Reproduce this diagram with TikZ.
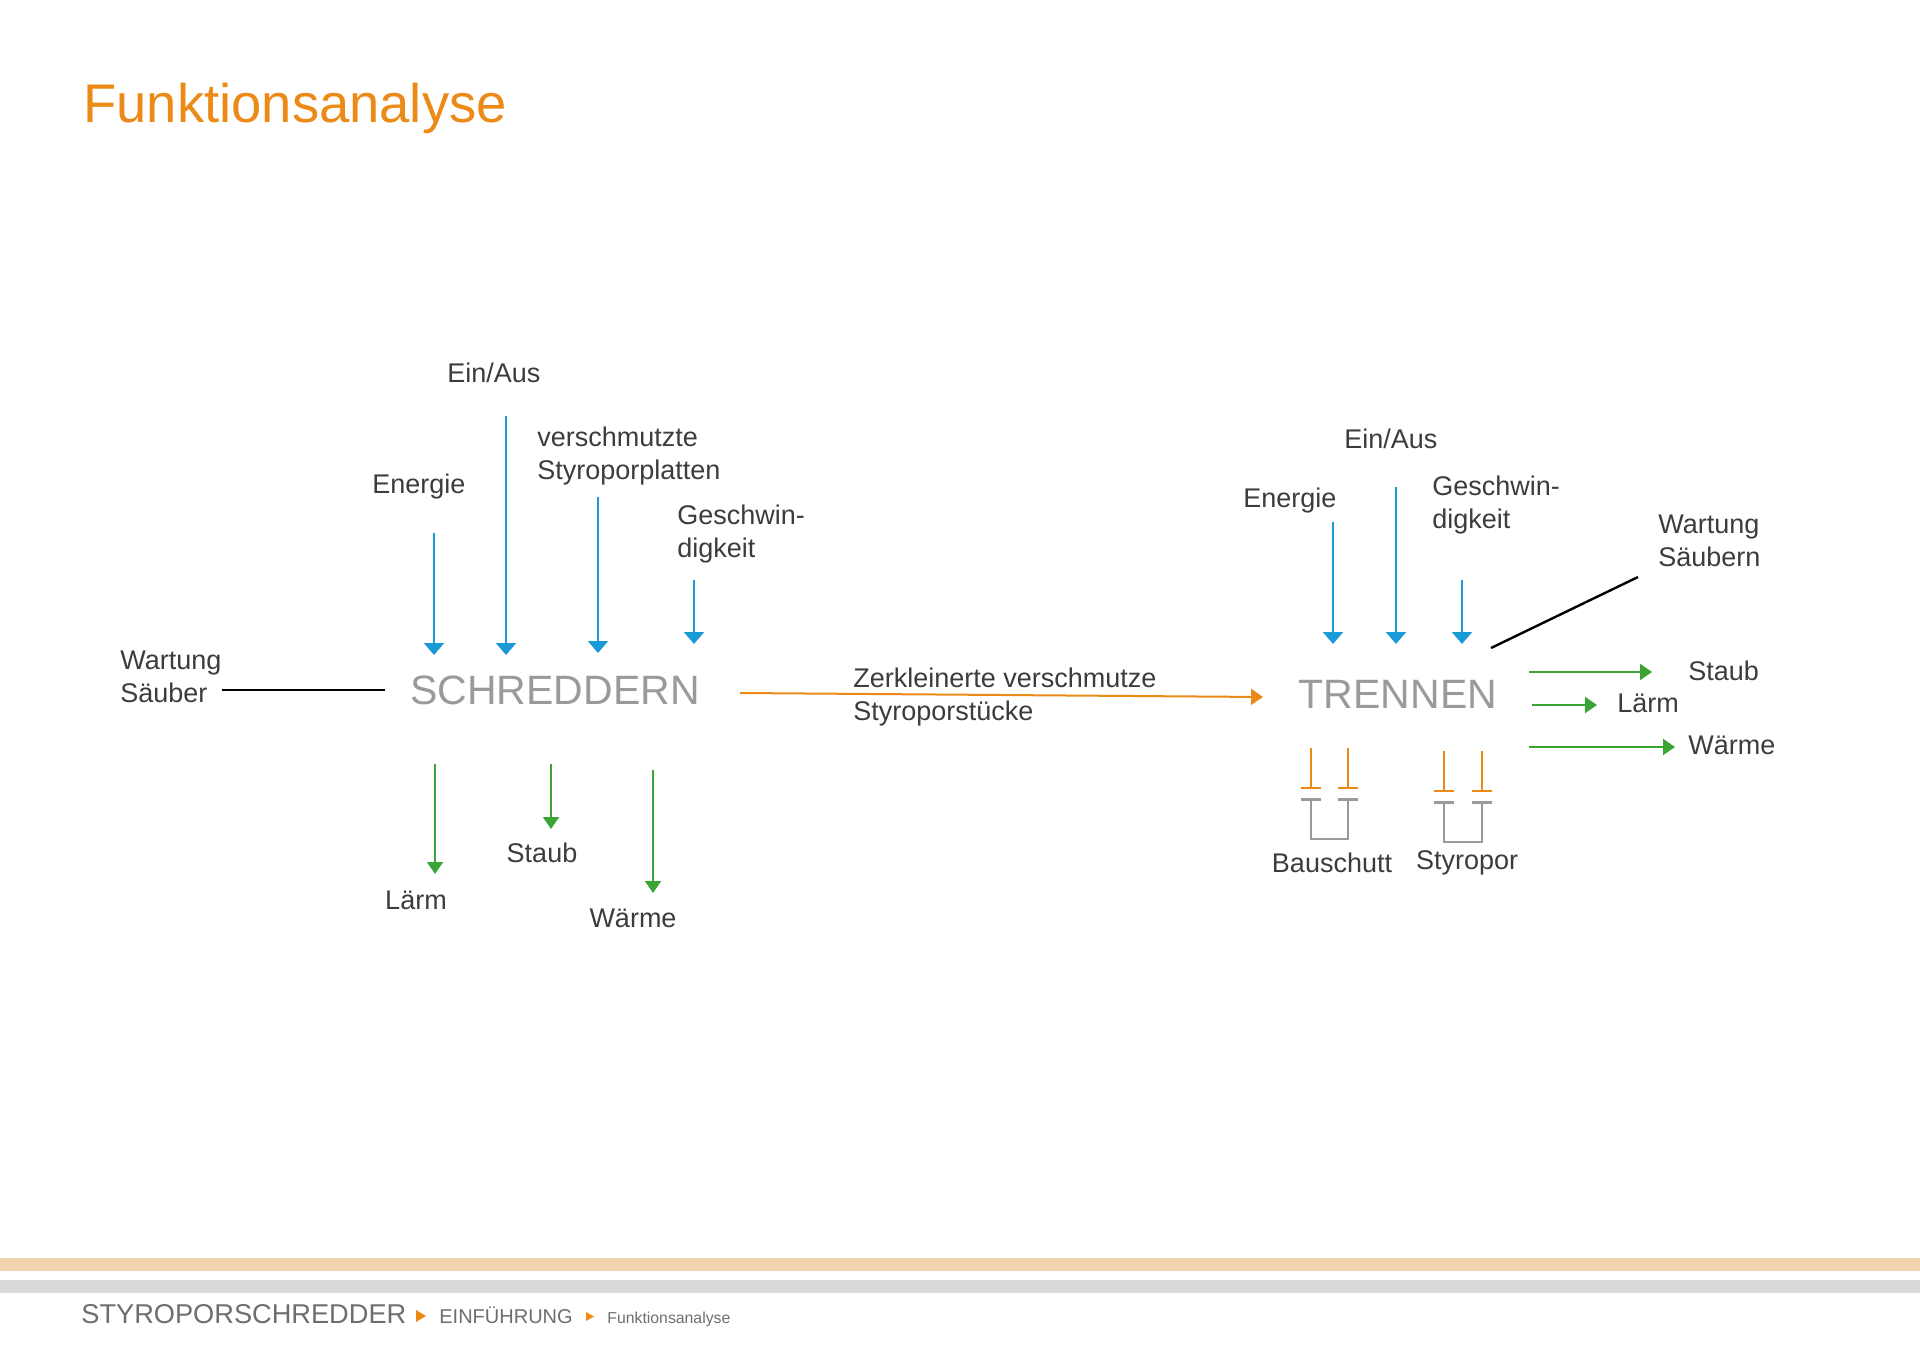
\documentclass[tikz,border=0pt]{standalone}
\usepackage{fontspec}
\setmainfont{Liberation Sans}
\usepackage{xcolor}
\usetikzlibrary{arrows.meta, positioning}
\definecolor{fnorange}{HTML}{EB8A17}
\definecolor{fnblue}{HTML}{1B9AD8}
\definecolor{fngreen}{HTML}{3AA435}
\definecolor{txtgray}{HTML}{3C3C3C}
\definecolor{procgray}{HTML}{9A9A9A}
\definecolor{bandorange}{HTML}{F2D3AE}
\definecolor{bandgray}{HTML}{DADADA}
\definecolor{footgray}{HTML}{6E6E6E}

\begin{document}
\begin{tikzpicture}[x=0.5pt, y=-0.5pt,
    every node/.style={inner sep=0pt, text=txtgray, align=left, font=\fontsize{13.5}{16.5}\selectfont},
    proc/.style={text=procgray, font=\fontsize{20.5}{24}\selectfont},
    infl/.style={color=fnblue, line width=1pt, -{Triangle[width=10pt,length=6pt]}},
    outfl/.style={color=fngreen, line width=1pt, -{Triangle[width=8pt,length=6pt]}},
    flow/.style={color=fnorange, line width=1pt, -{Triangle[width=8pt,length=6pt]}},
    wline/.style={black, line width=1.2pt},
    binin/.style={color=fnorange, line width=1pt, -{Bar[width=10pt]}},
    binbox/.style={color=procgray, line width=1.3pt, {Bar[width=10pt]}-{Bar[width=10pt]}}]
    \useasboundingbox (0,0) rectangle (1920,1358);

    % title
    \node[anchor=base west, text=fnorange, font=\fontsize{27.2}{32}\selectfont] (title) at (83,123) {Funktionsanalyse};

    % processes
    \node[proc] (schred) at (555,690) {SCHREDDERN};
    \node[proc] (trenn) at (1398,694) {TRENNEN};

    % inputs SCHREDDERN
    \foreach \n/\x/\ya/\yb in {en/434/533/655, ea/506/416/655, vs/598/497/653, gs/694/580/644} {
        \coordinate (s\n-a) at (\x,\ya);
        \coordinate (s\n-b) at (\x,\yb);
        \draw[infl] (s\n-a) -- (s\n-b);
    }
    \node[anchor=west] (sEinAus) at (447,373) {Ein/Aus};
    \node[anchor=west] (sEnergie) at (372,487) {Energie};
    \node[anchor=west] (sPlatten) at (537,456) {verschmutzte\\Styroporplatten};
    \node[anchor=west] (sGeschw) at (677,534) {Geschwin-\\digkeit};

    % outputs SCHREDDERN
    \foreach \n/\x/\ya/\yb in {la/435/764/874, st/551/764/829, wa/653/770/893} {
        \coordinate (s\n-a) at (\x,\ya);
        \coordinate (s\n-b) at (\x,\yb);
        \draw[outfl] (s\n-a) -- (s\n-b);
    }
    \node (sLaerm) at (416,900) {Lärm};
    \node (sStaub) at (542,853) {Staub};
    \node (sWaerme) at (633,918) {Wärme};

    % wartung SCHREDDERN
    \node[anchor=west] (sWartung) at (120,677) {Wartung\\Säuber};
    \coordinate (sw-a) at (222,690);
    \coordinate (sw-b) at (385,690);
    \draw[wline] (sw-a) -- (sw-b);

    % flow between processes
    \coordinate (cut-a) at (740,693);
    \coordinate (cut-b) at (1263,697);
    \draw[flow] (cut-a) -- (cut-b);
    \node[anchor=west] (cutLbl) at (853,697) {Zerkleinerte verschmutze\\Styroporstücke};

    % inputs TRENNEN
    \foreach \n/\x/\ya/\yb in {en/1333/522/644, ea/1396/487/644, gs/1462/580/644} {
        \coordinate (t\n-a) at (\x,\ya);
        \coordinate (t\n-b) at (\x,\yb);
        \draw[infl] (t\n-a) -- (t\n-b);
    }
    \node[anchor=west] (tEinAus) at (1344,439) {Ein/Aus};
    \node[anchor=west] (tEnergie) at (1243,501) {Energie};
    \node[anchor=west] (tGeschw) at (1432,505) {Geschwin-\\digkeit};

    % wartung TRENNEN
    \node[anchor=west] (tWartung) at (1658,541) {Wartung\\Säubern};
    \coordinate (tw-a) at (1491,648);
    \coordinate (tw-b) at (1638,577);
    \draw[wline] (tw-a) -- (tw-b);

    % outputs TRENNEN
    \foreach \n/\xa/\xb/\y in {st/1529/1652/672, la/1532/1597/705, wa/1529/1675/747} {
        \coordinate (t\n-a) at (\xa,\y);
        \coordinate (t\n-b) at (\xb,\y);
        \draw[outfl] (t\n-a) -- (t\n-b);
    }
    \node[anchor=west] (tStaub) at (1688,671) {Staub};
    \node[anchor=west] (tLaerm) at (1617,703) {Lärm};
    \node[anchor=west] (tWaerme) at (1688,745) {Wärme};

    % bins
    \foreach \n/\xa/\xb/\yt/\ym/\yg/\yb in {bau/1311/1348/748/789/798/839, sty/1444/1482/751/792/801/842} {
        \coordinate (\n-l) at (\xa,\yt);
        \coordinate (\n-r) at (\xb,\yt);
        \coordinate (\n-lm) at (\xa,\ym);
        \coordinate (\n-rm) at (\xb,\ym);
        \draw[binin] (\n-l) -- (\n-lm);
        \draw[binin] (\n-r) -- (\n-rm);
        \draw[binbox] (\xa,\yg) -- (\xa,\yb) -- (\xb,\yb) -- (\xb,\yg);
    }
    \node (bauLbl) at (1332,863) {Bauschutt};
    \node (styLbl) at (1467,863) {Styropor};

    % footer
    \fill[bandorange] (0,1258) rectangle (1920,1271);
    \fill[bandgray] (0,1280) rectangle (1920,1293);
    \node[anchor=base west, text=footgray, font=\fontsize{13.6}{16}\selectfont] (fStyro) at (81,1323) {STYROPORSCHREDDER};
    \fill[fnorange] (416,1310) -- (426,1316) -- (416,1322) -- cycle;
    \node[anchor=base west, text=footgray, font=\fontsize{10}{12}\selectfont] (fEinf) at (439,1323) {EINFÜHRUNG};
    \fill[fnorange] (586,1312) -- (594,1316.5) -- (586,1321) -- cycle;
    \node[anchor=base west, text=footgray, font=\fontsize{7.9}{9.5}\selectfont] (fFunk) at (607,1323) {Funktionsanalyse};
\end{tikzpicture}
\end{document}
